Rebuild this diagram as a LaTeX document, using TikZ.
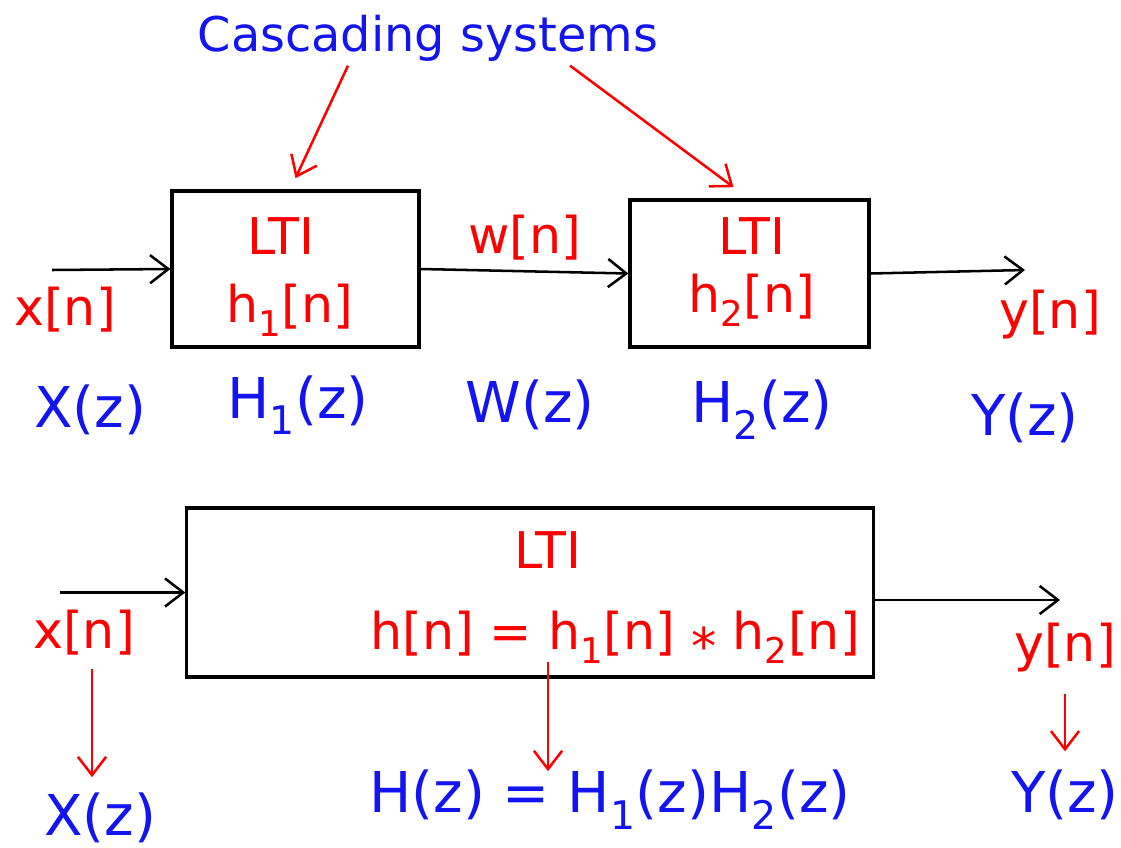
\documentclass[tikz,border=0pt]{standalone}
\usepackage{fontspec}
\setmainfont{DejaVu Sans}
\usetikzlibrary{arrows.meta, positioning}
\definecolor{InkRed}{HTML}{FF0000}
\definecolor{InkBlue}{HTML}{1414F0}

\begin{document}
\begin{tikzpicture}[x=0.025cm, y=-0.025cm,
  box/.style={draw, line width=2.2pt, inner sep=0pt},
  sig/.style={text=InkRed, inner sep=1pt, font=\fontsize{36}{42}\selectfont},
  tf/.style={text=InkBlue, inner sep=1pt, font=\fontsize{40}{46}\selectfont},
  arrow/.style={-{Straight Barb[length=13pt, width=20pt]}, line width=1.8pt},
  redarrow/.style={arrow, draw=InkRed}
]
  \useasboundingbox (0,0) rectangle (1121,848);

  % Cascade of two systems
  \node[tf, font=\fontsize{34}{39}\selectfont] (title) at (428,38) {Cascading systems};
  \node[box, minimum width=6.175cm, minimum height=3.9cm] (h1box) at (295.5,269) {};
  \node[box, minimum width=5.975cm, minimum height=3.675cm] (h2box) at (749.5,273.5) {};
  \node[sig] (lti1) at (281,236) {LTI};
  \node[sig] (h1n) at (290,310) {h\textsubscript{1}[n]};
  \node[sig] (lti2) at (752,236) {LTI};
  \node[sig] (h2n) at (752,300) {h\textsubscript{2}[n]};

  \coordinate (xin) at (52,270);
  \coordinate (yout) at (1025,270);
  \node[sig] (xn1) at (65,310) {x[n]};
  \node[sig] (wn) at (525,238) {w[n]};
  \node[sig] (yn1) at (1050,315) {y[n]};

  \node[tf] (Xz1) at (90,410) {X(z)};
  \node[tf] (H1z) at (298,405) {H\textsubscript{1}(z)};
  \node[tf] (Wz) at (530,405) {W(z)};
  \node[tf] (H2z) at (762,410) {H\textsubscript{2}(z)};
  \node[tf] (Yz1) at (1025,418) {Y(z)};

  \draw[arrow] (xin) -- (h1box.west);
  \draw[arrow] (h1box.east) -- (h2box.west);
  \draw[arrow] (h2box.east) -- (yout);
  \draw[redarrow] ([xshift=-2.0cm, yshift=-2pt]title.south) -- ([yshift=8pt]h1box.north);
  \draw[redarrow] ([xshift=3.55cm, yshift=-2pt]title.south) -- ([xshift=-0.4cm, yshift=8pt]h2box.north);

  % Equivalent single system
  \node[box, minimum width=17.15cm, minimum height=4.225cm] (hbox) at (530,592.5) {};
  \node[sig] (lti3) at (548,550) {LTI};
  \node[sig] (hn) at (615,638) {h[n] = h\textsubscript{1}[n] \raisebox{-0.3em}{*} h\textsubscript{2}[n]};

  \coordinate (xin3) at (60,592.5);
  \coordinate (yout3) at (1060,600);
  \node[sig] (xn3) at (84,633) {x[n]};
  \node[sig] (yn3) at (1065,648) {y[n]};

  \node[tf] (Xz3) at (100,818) {X(z)};
  \node[tf] (Hz) at (610,800) {H(z) = H\textsubscript{1}(z)H\textsubscript{2}(z)};
  \node[tf] (Yz3) at (1065,795) {Y(z)};

  \draw[arrow] (xin3) -- (hbox.west);
  \draw[arrow] (hbox.east |- yout3) -- (yout3);
  \draw[redarrow] ([xshift=0.2cm, yshift=-8pt]xn3.south) -- ([xshift=0.2cm, yshift=10pt]xn3.south |- Xz3.north);
  \draw[redarrow] ([yshift=12pt]hbox.south -| lti3) -- ([yshift=-2pt]Hz.north -| lti3);
  \draw[redarrow] ([yshift=-14pt]yn3.south) -- ([yshift=12pt]Yz3.north);
\end{tikzpicture}
\end{document}
